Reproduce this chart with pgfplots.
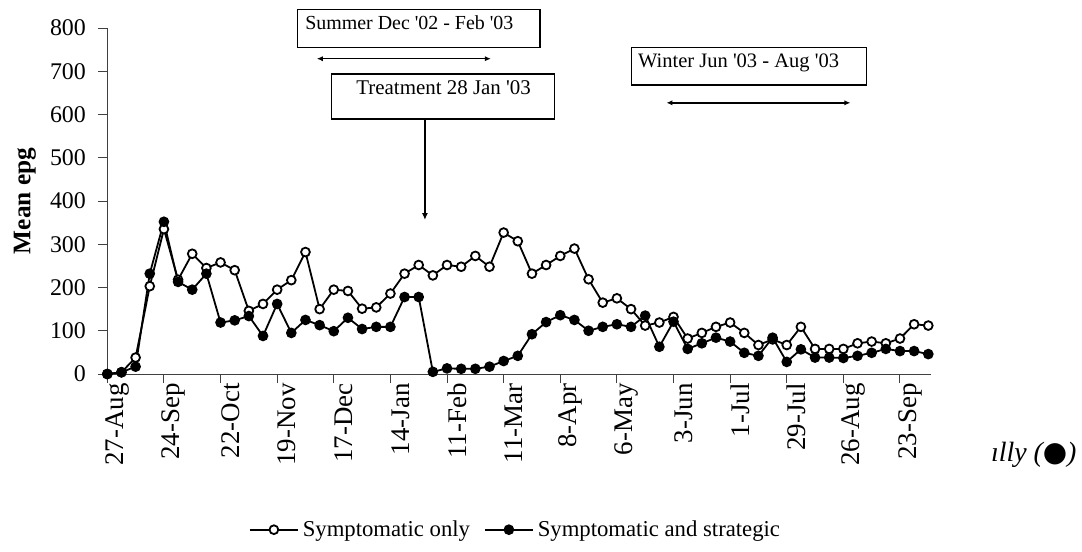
\documentclass[border=0pt]{standalone}
\usepackage{fontspec}
\setmainfont{Liberation Serif}
\newfontfamily\dejavu{DejaVu Sans}
\usepackage{pgfplots}
\pgfplotsset{compat=1.18}
\usetikzlibrary{arrows.meta}

\pgfplotstableread{
w open filled
0 0 0
1 4 4
2 38 17
3 203 232
4 335 352
5 218 213
6 278 195
7 245 232
8 258 119
9 240 124
10 146 134
11 162 88
12 195 162
13 217 95
14 282 125
15 150 113
16 195 99
17 192 130
18 151 104
19 154 109
20 186 109
21 232 178
22 252 178
23 228 5
24 252 13
25 248 12
26 273 12
27 248 17
28 327 30
29 307 42
30 232 92
31 252 120
32 273 136
33 290 125
34 219 100
35 165 109
36 175 115
37 150 109
38 112 135
39 119 63
40 132 121
41 82 58
42 95 71
43 109 84
44 119 75
45 95 49
46 67 42
47 80 84
48 67 28
49 109 57
50 58 38
51 58 38
52 58 37
53 71 42
54 75 49
55 71 58
56 82 53
57 115 53
58 112 46
}\datatable

\begin{document}
\begin{tikzpicture}
\begin{axis}[
  at={(0,0)}, anchor=south west,
  scale only axis,
  width=411.7bp, height=173bp,
  xmin=0, xmax=58.17, ymin=0, ymax=800,
  clip=false,
  axis lines=left,
  axis line style={black!75, line width=0.5bp, -},
  tick style={black!75, line width=0.5bp},
  tick align=outside,
  major tick length=4.5bp,
  xtick={0,4,...,56},
  xticklabels={27-Aug,24-Sep,22-Oct,19-Nov,17-Dec,14-Jan,11-Feb,11-Mar,8-Apr,6-May,3-Jun,1-Jul,29-Jul,26-Aug,23-Sep},
  xticklabel style={rotate=90, anchor=east, font=\fontsize{13.5}{16}\selectfont, inner sep=0pt},
  x tick label style={yshift=-5bp},
  ytick={0,100,...,800},
  yticklabel style={font=\fontsize{12}{14}\selectfont, inner sep=0pt, xshift=-6bp},
  /pgf/number format/assume math mode=true,
  ylabel={Mean epg},
  ylabel style={at={(axis description cs:-0.1,0.5)}, anchor=center, font=\bfseries\fontsize{12.7}{15}\selectfont},
  legend columns=2,
  legend style={at={(0.497,-0.45)}, anchor=center, draw=none, fill=none,
    font=\fontsize{11.4}{14}\selectfont,
    /tikz/every even column/.append style={column sep=5bp},
    nodes={inner xsep=2bp, inner ysep=1bp}},
  legend image code/.code={\draw[mark repeat=2,mark phase=2,#1] plot coordinates {(0bp,0bp) (12bp,0bp) (24bp,0bp)};},
]
\addplot[black, line width=0.9bp, mark=*, mark size=2.2bp, mark options={fill=white, line width=0.9bp}] table[x=w,y=open] {\datatable};
\addlegendentry{Symptomatic only}
\addplot[black, line width=0.9bp, mark=*, mark size=2.2bp, mark options={fill=black}] table[x=w,y=filled] {\datatable};
\addlegendentry{Symptomatic and strategic}

% annotation boxes
\draw[black, line width=0.6bp] (13.42,754.5) rectangle (30.57,843);
\node[anchor=base west, inner sep=0pt, font=\fontsize{10}{12}\selectfont] at (13.96,795.4) {Summer Dec \textquotesingle 02 - Feb \textquotesingle 03};
\draw[black, line width=0.7bp, {Latex[length=3bp,width=2.6bp]}-{Latex[length=3bp,width=2.6bp]}] (14.8,729) -- (27.1,729);

\draw[black, line width=0.6bp] (15.85,589.6) rectangle (31.58,693.6);
\node[anchor=base west, inner sep=0pt, font=\fontsize{10.5}{12}\selectfont] at (17.57,646.7) {Treatment 28 Jan \textquotesingle 03};
\draw[black, line width=0.9bp, -{Latex[length=3.5bp,width=3bp]}] (22.44,589.6) -- (22.44,356);

\draw[black, line width=0.6bp] (37.05,668.2) rectangle (53.65,755.4);
\node[anchor=base west, inner sep=0pt, font=\fontsize{10.3}{12}\selectfont] at (37.47,709) {Winter Jun \textquotesingle 03 - Aug \textquotesingle 03};
\draw[black, line width=0.7bp, {Latex[length=3bp,width=2.6bp]}-{Latex[length=3bp,width=2.6bp]}] (39.5,627) -- (52.5,627);

\node[anchor=base east, inner sep=0pt, font=\itshape\fontsize{14}{15}\selectfont] at (68.5,-203) {ılly ({\dejavu\itshape ●})};
\end{axis}
\path[use as bounding box] (-53.65bp,-89bp) rectangle (487.35bp,187bp);
\end{tikzpicture}
\end{document}
